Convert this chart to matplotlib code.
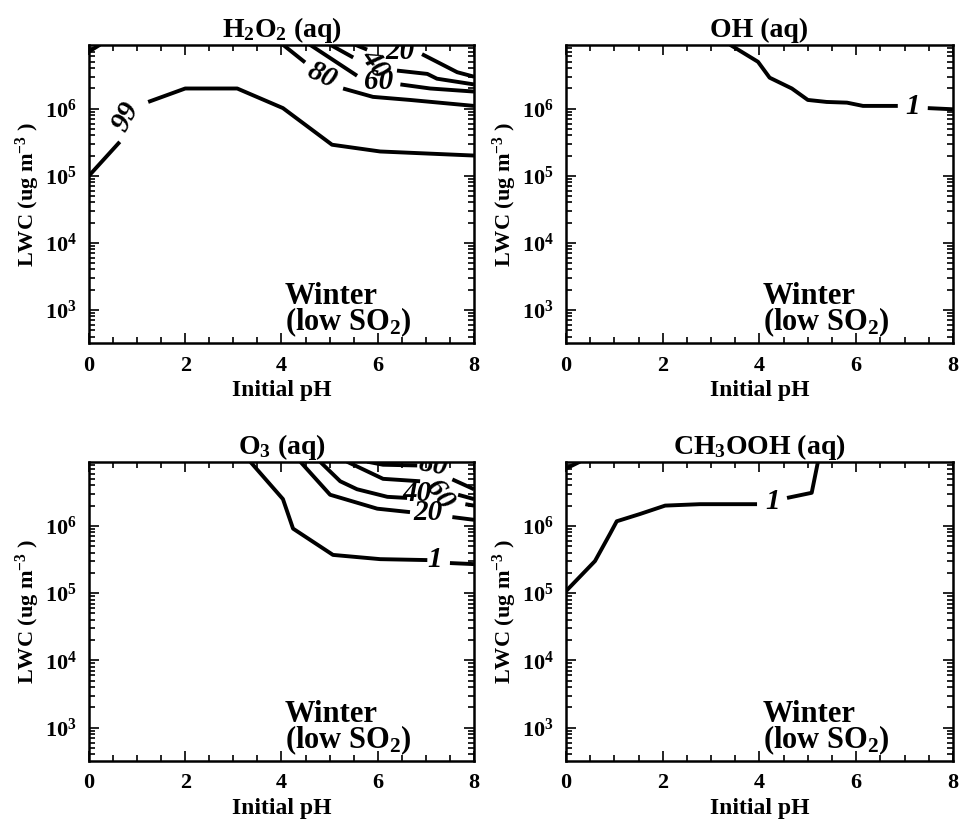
import numpy as np
import matplotlib
matplotlib.use('Agg')
from matplotlib import pyplot as plt
from matplotlib.ticker import LogLocator, MultipleLocator, NullFormatter

nan = np.nan

# Contour traces, pH vs LWC (ug m-3); nan leaves the gap where the label sits
# H2O2 (aq)
h2o2_99_ph = [0.0, 0.64, nan, 1.23, 2.0, 3.08, 4.03, 5.05, 6.05, 8.0]
h2o2_99_lwc = [1.0e5, 3.2e5, nan, 1.26e6, 2.0e6, 2.0e6, 1.02e6, 2.9e5, 2.3e5, 2.0e5]
h2o2_99b_ph = [0.0, 0.23]
h2o2_99b_lwc = [7.1e6, 9.0e6]
h2o2_80_ph = [4.03, 4.49, nan, 5.28, 5.90, 6.67, 8.0]
h2o2_80_lwc = [9.0e6, 4.9e6, nan, 2.0e6, 1.5e6, 1.35e6, 1.1e6]
h2o2_60_ph = [4.59, 5.57, nan, 6.47, 7.09, 8.0]
h2o2_60_lwc = [9.0e6, 3.1e6, nan, 2.3e6, 2.0e6, 1.8e6]
h2o2_40_ph = [5.01, 5.49, nan, 6.40, 7.03, 7.23, 8.0]
h2o2_40_lwc = [9.0e6, 5.8e6, nan, 3.7e6, 3.3e6, 2.8e6, 2.3e6]
h2o2_20_ph = [5.53, 5.78, nan, 6.92, 7.23, 7.65, 8.0]
h2o2_20_lwc = [9.0e6, 7.6e6, nan, 6.5e6, 5.0e6, 3.5e6, 3.0e6]
h2o2_label_text = ['99', '80', '60', '40', '20']
h2o2_label_ph = [0.77, 4.84, 6.01, 5.95, 6.47]
h2o2_label_lwc = [7.6e5, 3.1e6, 2.5e6, 4.7e6, 7.1e6]

# OH (aq)
oh_1_ph = [3.39, 3.97, 4.21, 4.67, 5.0, 5.39, 5.81, 6.14, 6.86, nan, 7.48, 8.0]
oh_1_lwc = [9.0e6, 5.0e6, 2.9e6, 2.0e6, 1.35e6, 1.26e6, 1.23e6, 1.1e6, 1.1e6, nan, 1.02e6, 9.8e5]
oh_label_text = ['1']
oh_label_ph = [7.17]
oh_label_lwc = [1.07e6]

# O3 (aq)
o3_1_ph = [3.35, 4.03, 4.24, 5.07, 6.05, 7.03, nan, 7.50, 8.0]
o3_1_lwc = [9.0e6, 2.5e6, 9.1e5, 3.7e5, 3.2e5, 3.1e5, nan, 2.8e5, 2.7e5]
o3_20_ph = [4.39, 5.01, 5.99, 6.67, nan, 7.55, 8.0]
o3_20_lwc = [9.0e6, 2.9e6, 1.8e6, 1.6e6, nan, 1.35e6, 1.23e6]
o3_40_ph = [4.80, 5.22, 5.57, 6.20, 6.61, nan, 7.82, 8.0]
o3_40_lwc = [9.0e6, 4.6e6, 3.5e6, 2.7e6, 2.6e6, nan, 2.1e6, 2.0e6]
o3_60_ph = [5.36, 6.11, 6.88, nan, 7.67, 8.0]
o3_60_lwc = [9.0e6, 5.0e6, 4.6e6, nan, 2.9e6, 2.5e6]
o3_80_ph = [5.78, 6.11, 6.82, nan, 7.55, 8.0]
o3_80_lwc = [9.0e6, 8.1e6, 7.9e6, nan, 4.9e6, 3.5e6]
o3_label_text = ['1', '20', '40', '60', '80']
o3_label_ph = [7.19, 7.05, 6.82, 7.28, 7.15]
o3_label_lwc = [3.2e5, 1.6e6, 3.0e6, 2.9e6, 8.1e6]

# CH3OOH (aq)
ch3ooh_1_ph = [0.0, 0.60, 0.91, 1.05, 1.53, 2.05, 2.77, 3.95, nan, 4.57, 5.08, 5.21]
ch3ooh_1_lwc = [1.07e5, 3.0e5, 7.6e5, 1.17e6, 1.5e6, 2.0e6, 2.1e6, 2.1e6, nan, 2.6e6, 3.1e6, 9.0e6]
ch3ooh_1b_ph = [0.0, 0.29]
ch3ooh_1b_lwc = [7.1e6, 9.0e6]
ch3ooh_label_text = ['1']
ch3ooh_label_ph = [4.28]
ch3ooh_label_lwc = [2.3e6]

plt.rcParams['font.family'] = 'Liberation Serif'
plt.rcParams['font.weight'] = 'bold'
plt.rcParams['mathtext.fontset'] = 'custom'
plt.rcParams['mathtext.rm'] = 'Liberation Serif:bold'
plt.rcParams['mathtext.bf'] = 'Liberation Serif:bold'
plt.rcParams['mathtext.it'] = 'Liberation Serif:bold:italic'
plt.rcParams['mathtext.default'] = 'rm'


def draw_panel(ax, title, lines, labels, rotations):
    for ph, lwc in lines:
        ax.plot(ph, lwc, color='black', lw=2.8, solid_capstyle='butt')
    for (txt, x, y), rot in zip(zip(*labels), rotations):
        ax.text(x, y, txt, fontsize=21, style='italic', fontweight='bold',
                ha='center', va='center', rotation=rot, clip_on=True)
    ax.set_yscale('log')
    ax.set(xlim=(0, 8), ylim=(320, 8.9e6))
    ax.set_xticks([0, 2, 4, 6, 8])
    ax.xaxis.set_minor_locator(MultipleLocator(0.5))
    ax.set_yticks([1e3, 1e4, 1e5, 1e6])
    ax.set_yticklabels([r'10$^{3}$', r'10$^{4}$', r'10$^{5}$', r'10$^{6}$'])
    ax.yaxis.set_minor_locator(LogLocator(base=10, subs=np.arange(2, 10)))
    ax.yaxis.set_minor_formatter(NullFormatter())
    ax.tick_params(which='both', direction='in', top=True, right=True, width=1.2)
    ax.tick_params(which='major', length=7, labelsize=16, pad=9)
    ax.tick_params(which='minor', length=4)
    for sp in ax.spines.values():
        sp.set_linewidth(1.8)
    ax.set_title(title, fontsize=20, fontweight='bold', pad=6)
    ax.set_xlabel('Initial pH', fontsize=17, fontweight='bold', labelpad=3)
    ax.set_ylabel(r'LWC (ug m$^{-3}$ )', fontsize=16, fontweight='bold', labelpad=2)
    ax.text(0.509, 0.012, 'Winter\n' + r'(low SO$_2$)', transform=ax.transAxes,
            fontsize=22, fontweight='bold', ha='left', va='bottom',
            linespacing=0.78)


fig = plt.figure(figsize=(9.65, 8.26), dpi=100)
ax1 = fig.add_axes([0.0922, 0.5847, 0.399, 0.3608])
ax2 = fig.add_axes([0.5865, 0.5847, 0.401, 0.3608])
ax3 = fig.add_axes([0.0922, 0.0787, 0.399, 0.362])
ax4 = fig.add_axes([0.5865, 0.0787, 0.401, 0.362])

draw_panel(ax1, r'H$_2$O$_2$ (aq)',
           [(h2o2_99_ph, h2o2_99_lwc), (h2o2_99b_ph, h2o2_99b_lwc),
            (h2o2_80_ph, h2o2_80_lwc), (h2o2_60_ph, h2o2_60_lwc),
            (h2o2_40_ph, h2o2_40_lwc), (h2o2_20_ph, h2o2_20_lwc)],
           (h2o2_label_text, h2o2_label_ph, h2o2_label_lwc),
           [62, -25, 0, -55, 0])
draw_panel(ax2, 'OH (aq)', [(oh_1_ph, oh_1_lwc)],
           (oh_label_text, oh_label_ph, oh_label_lwc), [0])
draw_panel(ax3, r'O$_3$ (aq)',
           [(o3_1_ph, o3_1_lwc), (o3_20_ph, o3_20_lwc), (o3_40_ph, o3_40_lwc),
            (o3_60_ph, o3_60_lwc), (o3_80_ph, o3_80_lwc)],
           (o3_label_text, o3_label_ph, o3_label_lwc), [0, 0, 0, -55, -10])
draw_panel(ax4, r'CH$_3$OOH (aq)',
           [(ch3ooh_1_ph, ch3ooh_1_lwc), (ch3ooh_1b_ph, ch3ooh_1b_lwc)],
           (ch3ooh_label_text, ch3ooh_label_ph, ch3ooh_label_lwc), [0])

fig.savefig('out.png', dpi=100)
